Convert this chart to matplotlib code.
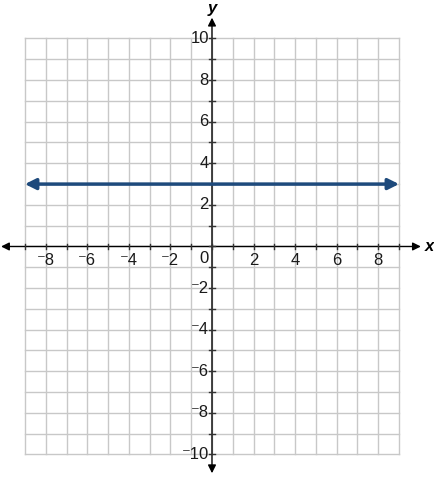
import numpy as np
import matplotlib.pyplot as plt

plt.rcParams['font.family'] = ['Liberation Sans', 'DejaVu Sans']

# grid / axis ranges
x_min, x_max = -9, 9
y_min, y_max = -10, 10
x_ticks = [-8, -6, -4, -2, 2, 4, 6, 8]
y_ticks = [-10, -8, -6, -4, -2, 2, 4, 6, 8, 10]

# horizontal line y = 3
line_x = [-9, 9]
line_y = [3, 3]

def lbl(v):
    return ('\u207b' + str(abs(v))) if v < 0 else str(v)

fig = plt.figure(figsize=(4.35, 4.78), dpi=100)
ax = fig.add_axes([0, 0, 1, 1])
ax.set_xlim(-10.20, 10.73)
ax.set_ylim(-11.13, 11.85)
ax.axis('off')

grid_col = '#c8c8c8'
for gx in range(x_min, x_max + 1):
    ax.plot([gx, gx], [y_min, y_max], color=grid_col, lw=1, zorder=1)
for gy in range(y_min, y_max + 1):
    ax.plot([x_min, x_max], [gy, gy], color=grid_col, lw=1, zorder=1)

# axes with arrows
ax.annotate('', xy=(10.05, 0), xytext=(-10.15, 0),
            arrowprops=dict(arrowstyle='<|-|>', color='black', lw=1,
                            mutation_scale=12, shrinkA=0, shrinkB=0), zorder=3)
ax.annotate('', xy=(0, 11.0), xytext=(0, -10.9),
            arrowprops=dict(arrowstyle='<|-|>', color='black', lw=1,
                            mutation_scale=12, shrinkA=0, shrinkB=0), zorder=3)

# tick marks
for tx in range(x_min, x_max + 1):
    ax.plot([tx, tx], [-0.13, 0.13], color='#333333', lw=1, zorder=3)
for ty in range(y_min, y_max + 1):
    ax.plot([-0.13, 0.13], [ty, ty], color='#333333', lw=1, zorder=3)

for tx in x_ticks:
    ax.text(tx, -0.33, lbl(tx), ha='center', va='top', fontsize=12, color='#1a1a1a')
for ty in y_ticks:
    ax.text(-0.15, ty, lbl(ty), ha='right', va='center', fontsize=12, color='#1a1a1a')
ax.text(-0.15, -0.2, '0', ha='right', va='top', fontsize=12, color='#1a1a1a')

ax.text(10.25, 0, 'x', ha='left', va='center', fontsize=12,
        fontweight='bold', fontstyle='italic')
ax.text(0, 11.45, 'y', ha='center', va='center', fontsize=12,
        fontweight='bold', fontstyle='italic')

# the line with arrowheads at both ends
ax.annotate('', xy=(line_x[1], line_y[1]), xytext=(line_x[0], line_y[0]),
            arrowprops=dict(arrowstyle='<|-|>', color='#1e4a7c', lw=2.5,
                            mutation_scale=16, shrinkA=0, shrinkB=0), zorder=4)

fig.savefig('out.png', dpi=100)
